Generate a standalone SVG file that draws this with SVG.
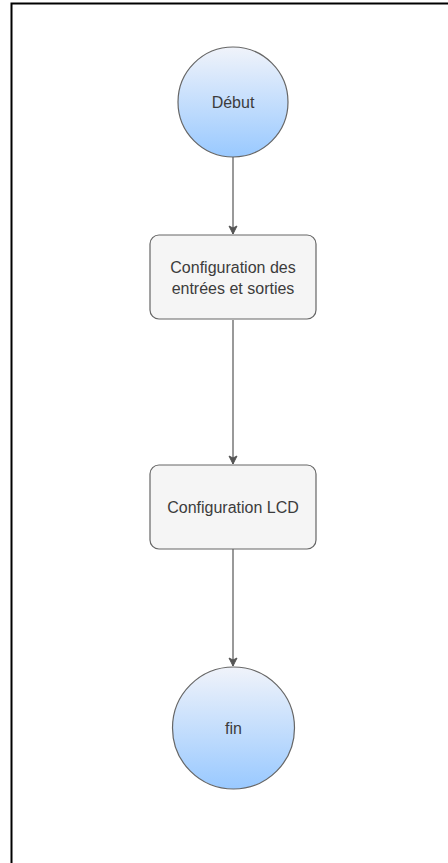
<svg xmlns="http://www.w3.org/2000/svg" width="448" height="863" viewBox="0 0 448 863">
<defs>
<linearGradient id="g" x1="0" y1="0" x2="0" y2="1">
<stop offset="0" stop-color="#f0f3fa"/>
<stop offset="1" stop-color="#99c9ff"/>
</linearGradient>
<marker id="arr" markerWidth="10" markerHeight="10" refX="9" refY="5" orient="auto" markerUnits="userSpaceOnUse">
<path d="M1,1 L9,5 L1,9 L3,5 Z" fill="#555" stroke="#555" stroke-width="1"/>
</marker>
<style>
.c{fill:url(#g);stroke:#666;stroke-width:1.2}
.r{fill:#f5f5f5;stroke:#666;stroke-width:1.2}
.t{font-family:"Liberation Sans",Arial,sans-serif;font-size:16px;fill:#3c3c3c;text-anchor:middle}
.e{stroke:#555;stroke-width:1.2;fill:none}
</style>
</defs>
<rect width="448" height="863" fill="#fff"/>
<path d="M11.5,863 V3.5 H448" fill="none" stroke="#000" stroke-width="2"/>
<g id="connectors">
<line class="e" x1="233" y1="157" x2="233" y2="234" marker-end="url(#arr)"/>
<line class="e" x1="233" y1="320" x2="233" y2="464" marker-end="url(#arr)"/>
<line class="e" x1="233" y1="549" x2="233" y2="666" marker-end="url(#arr)"/>
</g>
<g id="debut">
<circle class="c" cx="233" cy="102" r="55"/>
<text class="t" x="233" y="108">Début</text>
</g>
<g id="config-es">
<rect class="r" x="150" y="235" width="166" height="84" rx="9"/>
<text class="t" x="233" y="273">Configuration des</text>
<text class="t" x="233" y="294">entrées et sorties</text>
</g>
<g id="config-lcd">
<rect class="r" x="150" y="465" width="166" height="84" rx="9"/>
<text class="t" x="233" y="513">Configuration LCD</text>
</g>
<g id="fin">
<circle class="c" cx="233.5" cy="728" r="61"/>
<text class="t" x="233.5" y="734">fin</text>
</g>
</svg>
